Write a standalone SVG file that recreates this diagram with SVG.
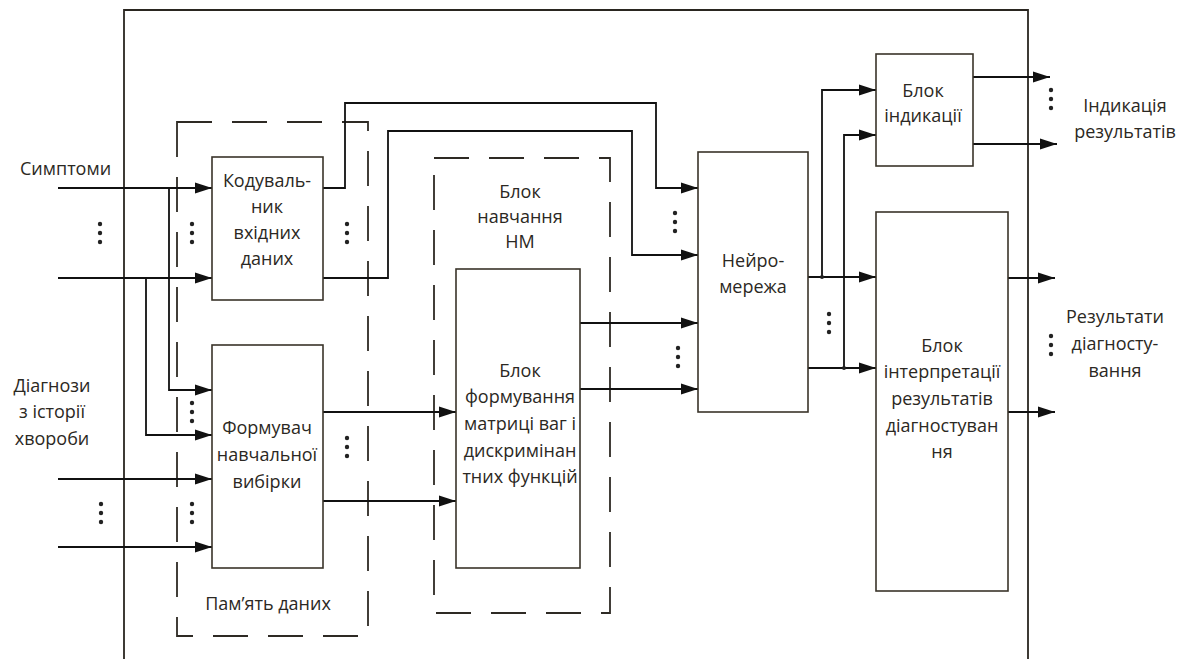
<svg xmlns="http://www.w3.org/2000/svg" width="1186" height="659" viewBox="0 0 1186 659">
<defs>
<marker id="arr" markerUnits="userSpaceOnUse" markerWidth="18" markerHeight="12" refX="17" refY="6" orient="auto">
<path d="M0,0.5 L17,6 L0,11.5 z" fill="#111"/>
</marker>
<style>
.box{fill:#fff;stroke:#3a342a;stroke-width:1.6}
.dash{fill:none;stroke:#2e2a24;stroke-width:1.8;stroke-dasharray:35 20}
.ln{fill:none;stroke:#2a2620;stroke-width:1.8}
.ar{fill:none;stroke:#111;stroke-width:1.8;marker-end:url(#arr)}
.t{font-family:"Open Sans","Noto Sans",sans-serif;font-size:18px;fill:#2b2823;text-anchor:middle}
.tl{font-family:"Open Sans","Noto Sans",sans-serif;font-size:18px;fill:#2b2823}
.dot{fill:#222}
</style>
</defs>
<rect width="1186" height="659" fill="#fff"/>
<g id="frame"><path class="ln" d="M124,659 V10 H1028 V659"/></g>
<g id="memory"><rect class="dash" x="177" y="122" width="191" height="514"/><text class="t" x="268" y="610">Пам’ять даних</text></g>
<g id="training"><rect class="dash" x="434" y="158" width="176" height="455"/><text class="t" x="520" y="198">Блок</text><text class="t" x="520" y="223">навчання</text><text class="t" x="520" y="248">НМ</text></g>
<g id="connectors">
<path class="ar" d="M58,188 H212"/>
<path class="ar" d="M58,278 H212"/>
<path class="ar" d="M169,188 V390 H212"/>
<path class="ar" d="M146,278 V435 H212"/>
<path class="ar" d="M58,479 H212"/>
<path class="ar" d="M58,547 H212"/>
<path class="ar" d="M323,188 H345 V103 H656 V188 H698"/>
<path class="ar" d="M323,278 H388 V131 H632 V255 H698"/>
<path class="ar" d="M323,412 H456"/>
<path class="ar" d="M323,501 H456"/>
<path class="ar" d="M580,323 H698"/>
<path class="ar" d="M580,389 H698"/>
<path class="ar" d="M808,277 H876"/>
<path class="ar" d="M808,368 H876"/>
<path class="ar" d="M822,277 V90 H876"/>
<path class="ar" d="M844,368 V135 H876"/>
<path class="ar" d="M973,77 H1050"/>
<path class="ar" d="M973,144 H1057"/>
<path class="ar" d="M1008,278 H1055"/>
<path class="ar" d="M1008,412 H1055"/>
<circle class="dot" cx="822" cy="277" r="2"/>
<circle class="dot" cx="844" cy="368" r="2"/>
</g>
<g id="dots">
<g class="dot">
<circle cx="100" cy="224" r="2.2"/><circle cx="100" cy="233" r="2.2"/><circle cx="100" cy="242" r="2.2"/>
<circle cx="192" cy="224" r="2.2"/><circle cx="192" cy="233" r="2.2"/><circle cx="192" cy="242" r="2.2"/>
<circle cx="347" cy="224" r="2.2"/><circle cx="347" cy="233" r="2.2"/><circle cx="347" cy="242" r="2.2"/>
<circle cx="192" cy="403" r="2.2"/><circle cx="192" cy="412" r="2.2"/><circle cx="192" cy="421" r="2.2"/>
<circle cx="101" cy="504" r="2.2"/><circle cx="101" cy="513" r="2.2"/><circle cx="101" cy="522" r="2.2"/>
<circle cx="192" cy="504" r="2.2"/><circle cx="192" cy="513" r="2.2"/><circle cx="192" cy="522" r="2.2"/>
<circle cx="347" cy="438" r="2.2"/><circle cx="347" cy="447" r="2.2"/><circle cx="347" cy="456" r="2.2"/>
<circle cx="675" cy="213" r="2.2"/><circle cx="675" cy="222" r="2.2"/><circle cx="675" cy="231" r="2.2"/>
<circle cx="678" cy="348" r="2.2"/><circle cx="678" cy="357" r="2.2"/><circle cx="678" cy="366" r="2.2"/>
<circle cx="829" cy="314" r="2.2"/><circle cx="829" cy="323" r="2.2"/><circle cx="829" cy="332" r="2.2"/>
<circle cx="1051" cy="90" r="2.2"/><circle cx="1051" cy="99" r="2.2"/><circle cx="1051" cy="108" r="2.2"/>
<circle cx="1051" cy="336" r="2.2"/><circle cx="1051" cy="345" r="2.2"/><circle cx="1051" cy="354" r="2.2"/>
</g>
</g>
<g id="coder"><rect class="box" x="212" y="157" width="111" height="143"/><text class="t" x="267" y="187">Кодуваль-</text><text class="t" x="267" y="213">ник</text><text class="t" x="267" y="239">вхідних</text><text class="t" x="267" y="265">даних</text></g>
<g id="former"><rect class="box" x="212" y="345" width="111" height="223"/><text class="t" x="267" y="434">Формувач</text><text class="t" x="267" y="461">навчальної</text><text class="t" x="267" y="488">вибірки</text></g>
<g id="matrix"><rect class="box" x="456" y="269" width="124" height="299"/><text class="t" x="520" y="377">Блок</text><text class="t" x="520" y="403">формування</text><text class="t" x="520" y="430">матриці ваг і</text><text class="t" x="520" y="457">дискримінан</text><text class="t" x="520" y="483">тних функцій</text></g>
<g id="neuro"><rect class="box" x="698" y="152" width="110" height="260"/><text class="t" x="753" y="267">Нейро-</text><text class="t" x="753" y="293">мережа</text></g>
<g id="indication"><rect class="box" x="876" y="54" width="97" height="112"/><text class="t" x="923" y="97">Блок</text><text class="t" x="923" y="122">індикації</text></g>
<g id="interpret"><rect class="box" x="876" y="212" width="132" height="379"/><text class="t" x="942" y="352">Блок</text><text class="t" x="942" y="378">інтерпретації</text><text class="t" x="942" y="405">результатів</text><text class="t" x="942" y="432">діагностуван</text><text class="t" x="942" y="458">ня</text></g>
<g id="labels">
<text class="tl" x="20" y="175">Симптоми</text>
<text class="t" x="52" y="392">Діагнози</text><text class="t" x="52" y="418">з історії</text><text class="t" x="52" y="445">хвороби</text>
<text class="t" x="1125" y="112">Індикація</text><text class="t" x="1125" y="138">результатів</text>
<text class="t" x="1115" y="323">Результати</text><text class="t" x="1115" y="350">діагносту-</text><text class="t" x="1115" y="377">вання</text>
</g>
</svg>
